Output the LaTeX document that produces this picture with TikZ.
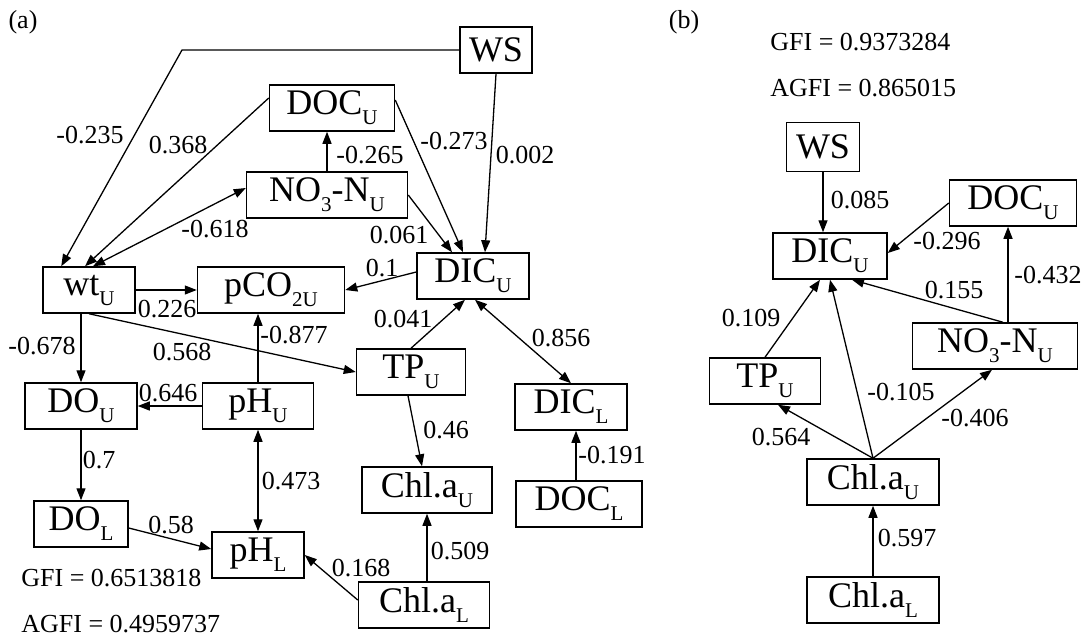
\documentclass[tikz,border=0pt]{standalone}
\usepackage{fontspec}
\setmainfont{Liberation Serif}
\usetikzlibrary{arrows.meta}
\newcommand{\subtxt}[1]{\raisebox{-5pt}{\fontsize{10.5}{11}\selectfont #1}}
\tikzset{
  var/.style   = {rectangle, draw, line width=0.75pt, inner sep=0, minimum height=23pt, font=\fontsize{18}{20}\selectfont},
  coef/.style  = {inner sep=0, font=\fontsize{13}{15}\selectfont},
  link/.style  = {line width=0.65pt, -{Triangle[length=6pt,width=4.5pt]}},
  link2/.style = {line width=0.65pt, {Triangle[length=6pt,width=4.5pt]}-{Triangle[length=6pt,width=4.5pt]}}
}
\begin{document}
\begin{tikzpicture}[x=0.5pt,y=-0.5pt]
  \useasboundingbox (0,0) rectangle (1085,637);

  % (a)
  \node[coef] (capA) at (23,22) {(a)};
  \node[var, minimum width=36pt]   (wsA)   at (496,50)  {WS};
  \node[var, minimum width=62.5pt] (docuA) at (332,108) {DOC\subtxt{U}};
  \node[var, minimum width=80.5pt] (noA)   at (327,195) {NO\subtxt{3}-N\subtxt{U}};
  \node[var, minimum width=56pt]   (dicuA) at (473,276) {DIC\subtxt{U}};
  \node[var, minimum width=46pt]   (wtA)   at (89,290)  {wt\subtxt{U}};
  \node[var, minimum width=73.5pt] (pcoA)  at (271,290) {pCO\subtxt{2U}};
  \node[var, minimum width=56pt]   (douA)  at (81,406)  {DO\subtxt{U}};
  \node[var, minimum width=55.5pt] (phuA)  at (258,406) {pH\subtxt{U}};
  \node[var, minimum width=47pt]   (dolA)  at (81,524)  {DO\subtxt{L}};
  \node[var, minimum width=46pt]   (phlA)  at (258,555) {pH\subtxt{L}};
  \node[var, minimum width=54.5pt] (tpA)   at (411,372) {TP\subtxt{U}};
  \node[var, minimum width=56pt]   (diclA) at (571,407) {DIC\subtxt{L}};
  \node[var, minimum width=65pt]   (chluA) at (427,490) {Chl.a\subtxt{U}};
  \node[var, minimum width=63pt]   (doclA) at (579,504) {DOC\subtxt{L}};
  \node[var, minimum width=65.5pt] (chllA) at (424,605) {Chl.a\subtxt{L}};

  \coordinate (kneeA) at (182,50);
  \draw[link] (wsA.west) -- (kneeA) -- ([xshift=9.5pt]wtA.north west); \node[coef] (a1) at (90,135) {-0.235};
  \draw[link] ([yshift=5pt]docuA.west) -- ([xshift=-2pt]wtA.north);   \node[coef] (a2) at (178,145) {0.368};
  \draw[link2] ([yshift=3.5pt]noA.west) -- ([xshift=2pt]wtA.north);   \node[coef] (a3) at (215,229) {-0.618};
  \draw[link] (noA.north) -- (noA.north |- docuA.south);              \node[coef] (a4) at (370,155) {-0.265};
  \draw[link] ([yshift=4pt]docuA.east) -- ([xshift=-5pt]dicuA.north); \node[coef] (a5) at (454,141) {-0.273};
  \draw[link] (wsA.south) -- ([xshift=6pt]dicuA.north);               \node[coef] (a6) at (525,155) {0.002};
  \draw[link] (noA.east) -- ([xshift=-10.5pt]dicuA.north);            \node[coef] (a7) at (399,235) {0.061};
  \draw[link] ([yshift=2pt]dicuA.west) -- (pcoA.east);                \node[coef] (a8) at (382,268) {0.1};
  \draw[link] (wtA.east) -- (pcoA.west);                              \node[coef] (a9) at (167,309) {0.226};
  \draw[link] (douA.north |- wtA.south) -- (douA.north);              \node[coef] (a10) at (42,346) {-0.678};
  \draw[link] (wtA.south) -- (tpA.west);                              \node[coef] (a11) at (182,352) {0.568};
  \draw[link] (phuA.north) -- (phuA.north |- pcoA.south);             \node[coef] (a12) at (294,335) {-0.877};
  \draw[link] (phuA.west) -- (douA.east);                             \node[coef] (a13) at (168,393) {0.646};
  \draw[link] (douA.south) -- (dolA.north);                           \node[coef] (a14) at (99,460) {0.7};
  \draw[link2] (phuA.south) -- (phlA.north);                          \node[coef] (a15) at (291,481) {0.473};
  \draw[link] ([yshift=-2pt]dolA.east) -- ([yshift=3pt]phlA.west);    \node[coef] (a16) at (171,525) {0.58};
  \draw[link] ([yshift=2.5pt]chllA.west) -- (phlA.east);              \node[coef] (a17) at (361,568) {0.168};
  \draw[link] (tpA.north) -- ([xshift=-4pt]dicuA.south);              \node[coef] (a18) at (403,319) {0.041};
  \draw[link2] ([xshift=1pt]dicuA.south) -- (diclA.north);            \node[coef] (a19) at (561,338) {0.856};
  \draw[link] ([xshift=-1.5pt]tpA.south) -- ([xshift=-2.5pt]chluA.north); \node[coef] (a20) at (446,430) {0.46};
  \draw[link] (chluA.south |- chllA.north) -- (chluA.south);          \node[coef] (a21) at (460,551) {0.509};
  \draw[link] ([xshift=-1.5pt]doclA.north) -- ([xshift=2.5pt]diclA.south); \node[coef] (a22) at (612,455) {-0.191};

  \node[coef, anchor=west] (gfiA)  at (21,578) {GFI = 0.6513818};
  \node[coef, anchor=west] (agfiA) at (21,624) {AGFI = 0.4959737};

  % (b)
  \node[coef] (capB) at (684,22) {(b)};
  \node[coef, anchor=west] (gfiB)  at (770,42) {GFI = 0.9373284};
  \node[coef, anchor=west] (agfiB) at (770,88) {AGFI = 0.865015};

  \node[var, minimum width=36.5pt, minimum height=24.5pt] (wsB) at (823,147) {WS};
  \node[var, minimum width=63.5pt] (docuB) at (1013,203) {DOC\subtxt{U}};
  \node[var, minimum width=57pt]   (dicuB) at (830,256)  {DIC\subtxt{U}};
  \node[var, minimum width=82.5pt] (noB)   at (995,346)  {NO\subtxt{3}-N\subtxt{U}};
  \node[var, minimum width=55.5pt] (tpB)   at (765,381)  {TP\subtxt{U}};
  \node[var, minimum width=66pt]   (chluB) at (873,482)  {Chl.a\subtxt{U}};
  \node[var, minimum width=66pt]   (chllB) at (873,600)  {Chl.a\subtxt{L}};

  \draw[link] (wsB.south) -- (wsB.south |- dicuB.north);                   \node[coef] (b1) at (860,200) {0.085};
  \draw[link] (docuB.west) -- ([yshift=1.5pt]dicuB.east);                  \node[coef] (b2) at (947,241) {-0.296};
  \draw[link] ([xshift=6.5pt]noB.north) -- ([xshift=-2.5pt]docuB.south);   \node[coef] (b3) at (1048,275) {-0.432};
  \draw[link] ([xshift=4pt]noB.north) -- ([xshift=11pt]dicuB.south);       \node[coef] (b4) at (954,290) {0.155};
  \draw[link] (tpB.north) -- ([xshift=-5pt]dicuB.south);                   \node[coef] (b5) at (751,318) {0.109};
  \draw[link] (chluB.north) -- (dicuB.south);                              \node[coef] (b6) at (901,392) {-0.105};
  \draw[link] (chluB.north) -- ([xshift=6.5pt]tpB.south);                  \node[coef] (b7) at (781,437) {0.564};
  \draw[link] (chluB.north) -- ([xshift=-1.5pt]noB.south);                 \node[coef] (b8) at (975,418) {-0.406};
  \draw[link] (chllB.north) -- (chluB.south);                              \node[coef] (b9) at (907,538) {0.597};
\end{tikzpicture}
\end{document}
